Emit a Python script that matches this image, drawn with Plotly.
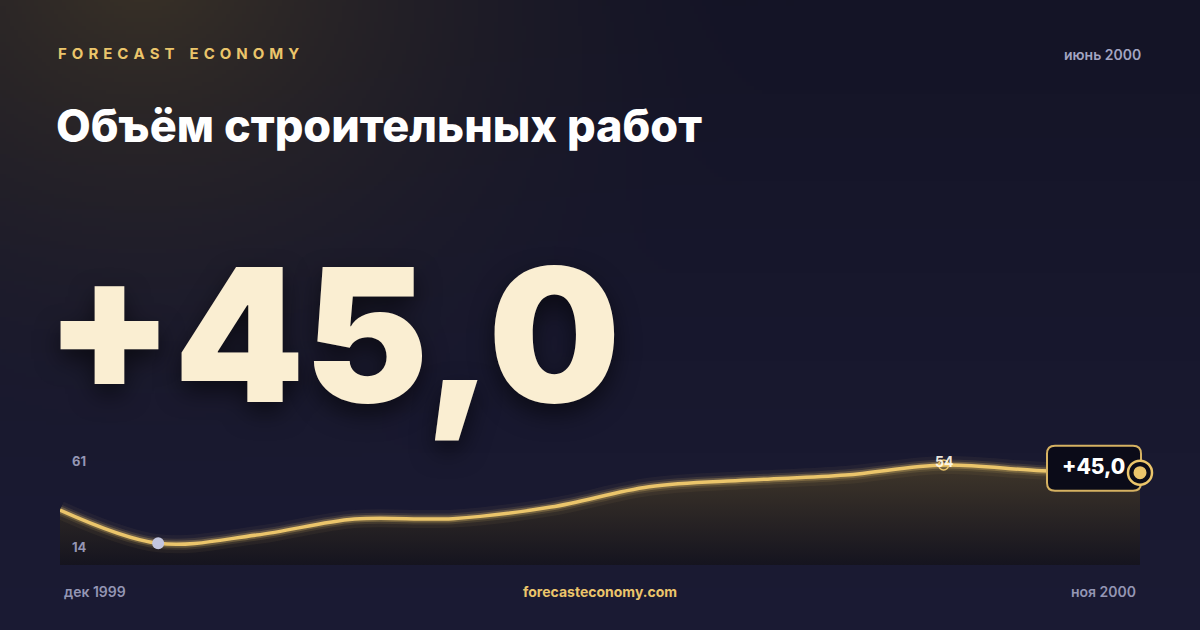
import base64
import struct
import zlib

import numpy as np
import plotly.graph_objects as go

# --- data ---------------------------------------------------------------
months = ["дек 1999", "янв 2000", "фев 2000", "мар 2000", "апр 2000", "май 2000",
          "июн 2000", "июл 2000", "авг 2000", "сен 2000", "окт 2000", "ноя 2000"]
values = [31.0, 14.0, 18.2, 26.4, 26.6, 32.5, 42.9, 46.3, 48.9, 54.0, 51.1, 50.1]
headline = "+45,0"
title = "Объём строительных работ"
brand = "FORECAST ECONOMY"
report_date = "июнь 2000"
scale_labels = ["61", "14"]
site = "forecasteconomy.com"

W, H = 1200, 630
GOLD = "#ebc56b"
GREY = "#9496b4"
CREAM = "#faeed2"
FONT = "Inter, 'Noto Sans', sans-serif"


def px(x):
    return x / W


def py(y):
    return 1 - y / H


def png_uri(rgb):
    # tiny png writer, no PIL needed
    h, w, _ = rgb.shape
    raw = b"".join(b"\x00" + rgb[i].tobytes() for i in range(h))

    def chunk(tag, data):
        c = struct.pack(">I", len(data)) + tag + data
        return c + struct.pack(">I", zlib.crc32(tag + data) & 0xffffffff)

    png = (b"\x89PNG\r\n\x1a\n"
           + chunk(b"IHDR", struct.pack(">IIBBBBB", w, h, 8, 2, 0, 0, 0))
           + chunk(b"IDAT", zlib.compress(raw, 9))
           + chunk(b"IEND", b""))
    return "data:image/png;base64," + base64.b64encode(png).decode()


def background():
    s = 4
    yy, xx = np.mgrid[0:H // s + 1, 0:W // s] * s
    t = (yy / H)[..., None]
    top = np.array([20, 20, 38])
    bottom = np.array([27, 27, 52])
    base = top * (1 - t) + bottom * t
    d = np.sqrt((xx - 140) ** 2 + ((yy + 30) * 1.2) ** 2)
    g = (np.clip(1 - d / 650, 0, 1) ** 1.8)[..., None]
    warm = np.array([58, 50, 38])
    rgb = base * (1 - g) + warm * g
    return png_uri(np.clip(rgb, 0, 255).astype(np.uint8))


x = np.arange(len(values))
i_min = int(np.argmin(values))
i_max = int(np.argmax(values))
i_last = len(values) - 1

fig = go.Figure()

# area under the line
fig.add_trace(go.Scatter(
    x=x, y=values, mode="lines", line=dict(width=0, shape="spline"),
    fill="tozeroy",
    fillgradient=dict(type="vertical", start=2.9, stop=max(values),
                      colorscale=[[0, "#15141f"], [1, "#3f362a"]]),
    hoverinfo="skip"))

# glow + line
for w, a in [(18, 0.05), (11, 0.11), (7, 0.26)]:
    fig.add_trace(go.Scatter(x=x, y=values, mode="lines",
                             line=dict(width=w, color=f"rgba(240,200,110,{a})", shape="spline"),
                             hoverinfo="skip"))
fig.add_trace(go.Scatter(x=x, y=values, mode="lines",
                         line=dict(width=3.5, color=GOLD, shape="spline")))

fig.add_trace(go.Scatter(x=[x[i_min]], y=[values[i_min]], mode="markers",
                         marker=dict(size=12, color="#c3c6df"), cliponaxis=False))
fig.add_trace(go.Scatter(x=[x[i_max]], y=[values[i_max]], mode="markers",
                         marker=dict(size=10, symbol="circle-open", color=GOLD,
                                     line=dict(width=1.5, color=GOLD)),
                         cliponaxis=False))

# badge + end marker, anchored on the last point
bx0, bx1, by0, by1, r = -93, 1, -18, 27, 8
badge_path = (f"M {bx0 + r},{by0} L {bx1 - r},{by0} Q {bx1},{by0} {bx1},{by0 + r} "
              f"L {bx1},{by1 - r} Q {bx1},{by1} {bx1 - r},{by1} "
              f"L {bx0 + r},{by1} Q {bx0},{by1} {bx0},{by1 - r} "
              f"L {bx0},{by0 + r} Q {bx0},{by0} {bx0 + r},{by0} Z")
anchor = dict(xref="x", yref="y", xsizemode="pixel", ysizemode="pixel",
              xanchor=x[i_last], yanchor=values[i_last])
fig.add_shape(type="path", path=badge_path, fillcolor="#0b0b18",
              line=dict(color="#d6b262", width=2), **anchor)
fig.add_shape(type="circle", x0=-12, x1=12, y0=-12, y1=12, fillcolor="#0b0b18",
              line=dict(color=GOLD, width=2.5), **anchor)
fig.add_shape(type="circle", x0=-6.5, x1=6.5, y0=-6.5, y1=6.5, fillcolor=GOLD,
              line=dict(width=0), **anchor)

ann = []


def text(xp, yp, s, size, color, weight=700, xa="left", family=FONT, shadow=None):
    f = dict(family=family, size=size, color=color, weight=weight)
    if shadow:
        f["shadow"] = shadow
    ann.append(dict(x=px(xp), y=py(yp), xref="paper", yref="paper", text=s,
                    showarrow=False, xanchor=xa, yanchor="middle", font=f))


spaced = "\u2004".join(brand).replace("\u2004 \u2004", "\u2004\u2004\u2004")
text(56, 53, spaced, 15, GOLD, 700)
text(1143, 54, report_date, 14, "#a3a5c2", 600, xa="right")
text(54, 126, title, 45, "#ffffff", 800)
text(43, 334, headline, 186, CREAM, 900, shadow="0px 10px 24px rgba(0,0,0,0.55)")
text(70, 461, scale_labels[0], 13, GREY, 700)
text(70, 547, scale_labels[1], 13, GREY, 700)
text(62, 591, months[0], 14, GREY, 600)
text(1138, 591, months[-1], 14, GREY, 600, xa="right")
text(600, 591, site, 14, GOLD, 700, xa="center")

ann.append(dict(x=x[i_max], y=values[i_max], xref="x", yref="y",
                text=f"{values[i_max]:.0f}", showarrow=False, yshift=4,
                font=dict(family=FONT, size=14, color="rgba(255,250,238,0.92)", weight=700)))
ann.append(dict(x=x[i_last], y=values[i_last], xref="x", yref="y",
                text=headline, showarrow=False, xshift=-47, yshift=6,
                font=dict(family=FONT, size=21, color="#ffffff", weight=800)))

# plot area runs a bit past the last point so the end marker is not clipped
x_right = 1170
fig.update_layout(
    width=W, height=H,
    margin=dict(l=0, r=0, t=0, b=0),
    paper_bgcolor="#161629",
    plot_bgcolor="rgba(0,0,0,0)",
    showlegend=False,
    annotations=ann,
    images=[dict(source=background(), xref="paper", yref="paper", x=0, y=1,
                 sizex=1, sizey=1, sizing="stretch", layer="below")],
    xaxis=dict(domain=[px(60), px(x_right)],
               range=[0, i_last * (x_right - 60) / (1140 - 60)],
               visible=False, fixedrange=True),
    yaxis=dict(domain=[py(565), py(440)], range=[2.9, 66.8],
               visible=False, fixedrange=True),
)

fig.write_html("out.html", config={"displayModeBar": False},
               post_script="document.body.style.margin='0';")
